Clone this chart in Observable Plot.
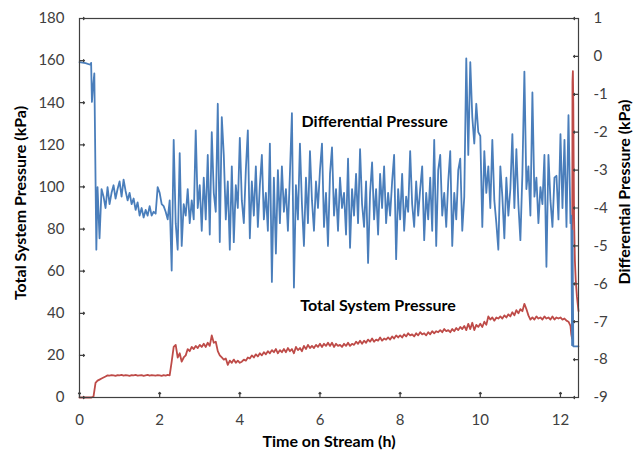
<!DOCTYPE html>
<html><head><meta charset="utf-8">
<script src="https://cdn.jsdelivr.net/npm/d3@7"></script>
<script src="https://cdn.jsdelivr.net/npm/@observablehq/plot@0.6"></script>
<style>body{margin:0;background:#fff}</style>
</head><body><div id="chart"></div>
<script>
// Differential pressure (kPa, right axis)
const blueHeadTime = [0, 0.15, 0.27, 0.29, 0.31, 0.33, 0.37, 0.42];
const blueHeadKPa  = [-0.15, -0.18, -0.22, -0.17, -1.2, -0.9, -0.45, -5.1];
const blueGridStart = 0.45, blueGridStep = 0.05;
const blueGridKPa = [
  -3.45,-4.8,-3.5,-3.7,-4.0,-3.45,-3.9,-3.6,-3.4,-3.75,-3.5,
  -3.3,-3.7,-3.25,-3.55,-3.8,-3.6,-3.9,-3.75,-4.05,-3.85,-4.2,-4.0,-4.25,-4.05,-4.2,-3.95,-4.2,-4.1,-4.15,-3.45,
  -3.6,-3.9,-3.95,-4.1,-4.3,-3.8,-5.65,-2.2,-4.4,-5.1,-2.55,-5.0,-3.9,-4.2,-3.5,-4.4,-3.8,-4.3,-1.95,-4.0,
  -3.4,-4.6,-3.2,-4.3,-2.6,-4.7,-2.0,-3.6,-4.1,-1.25,-4.9,-1.6,-2.6,-4.3,-3.3,-5.1,-2.9,-4.9,-3.4,-4.0,
  -2.15,-3.8,-4.4,-3.0,-1.95,-4.8,-3.3,-4.2,-2.9,-4.5,-3.4,-2.6,-4.3,-3.6,-4.6,-2.3,-5.95,-3.2,-5.2,-3.0,
  -4.4,-2.9,-4.1,-3.5,-4.6,-3.1,-1.5,-6.1,-3.4,-4.3,-2.3,-3.9,-5.0,-3.2,-4.4,-2.5,-3.8,-4.6,-3.3,-4.0,
  -3.0,-2.3,-4.5,-3.6,-5.0,-3.1,-2.4,-4.2,-3.5,-4.6,-3.2,-4.0,-3.6,-4.7,-2.7,-5.05,-3.5,-4.2,-3.1,-4.4,
  -2.45,-3.9,-4.5,-3.3,-5.45,-3.6,-2.8,-4.3,-3.5,-4.7,-3.1,-4.0,-2.9,-4.4,-3.6,-4.2,-3.3,-2.6,-5.35,-3.5,
  -4.3,-3.1,-4.6,-3.7,-4.1,-2.5,-3.9,-4.5,-3.3,-4.2,-3.5,-2.9,-4.85,-3.6,-4.3,-3.2,-4.6,-2.2,-5.0,-3.0,
  -2.6,-4.2,-3.6,-4.5,-3.3,-2.5,-5.0,-3.6,-4.3,-3.0,-2.7,-4.6,-3.7,-0.05,-2.6,-0.15,-1.6,-2.3,-1.25,-2.0,
  -2.1,-4.5,-2.5,-3.6,-2.9,-4.0,-2.2,-3.8,-4.4,-5.1,-2.9,-3.7,-4.8,-3.2,-4.2,-3.5,-2.05,-4.0,-2.45,-3.9,
  -4.85,-3.1,-0.4,-3.5,-2.9,-4.2,-0.95,-3.7,-3.2,-4.4,-3.45,-3.9,-2.6,-5.55,-2.6,-3.8,-4.5,-3.2,-3.15,-4.3,
  -2.05,-4.0,-2.2,-4.5,-1.55,-4.4
];
const blueTailTime = [12.27, 12.29, 12.30, 12.32, 12.45];
const blueTailKPa  = [-4.2, -7.62, -4.6, -7.65, -7.65];

// Total system pressure (kPa, left axis)
const redGridStart = 0, redGridStep = 0.05;
const redGridKPa = [
  0,0,0,0,0,0,0,0.5,7,8,8.5,9,9.5,10,10.5,10.4,10.6,10.5,10.3,10.6,
  10.5,10.7,10.4,10.6,10.5,10.3,10.6,10.5,10.7,10.4,10.5,10.6,10.3,10.5,10.7,10.4,10.6,10.5,10.4,10.6,
  10.5,10.3,10.6,10.4,10.7,10.5,17,24,25,19,21,17,19,20,23,22,24,23,24.5,23.5,
  25,24,25.5,24,26,24.5,29.5,26,26.5,22,20,19,18,18.5,15.5,17.5,16.5,18,16.5,17.5,
  16.5,17,18,17.5,19,18.5,20,19,20.5,19.5,21,20,21.5,20.5,22,21,22.5,21.5,23,21,
  22.5,21.5,23,21.5,23.5,22,23,21,24,22.5,23.5,22,24.5,23,25,23.5,24.5,23.5,25,24,
  25.5,24,25.5,24.5,26,24.5,26,24,25.5,24.5,25,24,25.5,24.5,26,24.5,25.5,25,26.5,25.5,
  27,25.5,27,26,27.5,26.5,28,26.5,27.5,27,28.5,27,28,27.5,28.5,27.5,29,28,29.5,28.5,
  29.5,28.5,30,29,30.5,29.5,30,29,30.5,29.5,31,30,30.5,29.5,31,30,31.5,30.5,31.5,31,
  32,31,32.5,31.5,32,31,32.5,31.5,33,32,33.5,32.5,34,32,35,32.5,35.5,32,34.5,33.5,
  35,33.5,36,34.5,38.5,37,38,36.5,38,37.5,38.5,37.5,39,38,39.5,38.5,40.5,39,41.5,40,
  42,41,44.5,42,39,37,38,37,38.5,37.5,38,37,38.5,37.5,38,37,38.5,37,38,37.5,
  38,37,37.5,36.5,36,34
];
const redTailTime = [12.27, 12.29, 12.30, 12.31, 12.32, 12.33, 12.34, 12.36, 12.38, 12.41, 12.45];
const redTailKPa  = [30, 28, 150, 155, 140, 110, 85, 65, 56, 48, 41];

const xTicks = [0, 2, 4, 6, 8, 10, 12];
const yLeftTicks = [0, 20, 40, 60, 80, 100, 120, 140, 160, 180];
const yRightTicks = [-9, -8, -7, -6, -5, -4, -3, -2, -1, 0, 1];

// build tables
const blue = [];
blueHeadTime.forEach((t, i) => blue.push({t, v: blueHeadKPa[i]}));
blueGridKPa.forEach((v, i) => blue.push({t: +(blueGridStart + i * blueGridStep).toFixed(2), v}));
blueTailTime.forEach((t, i) => blue.push({t, v: blueTailKPa[i]}));
const red = [];
redGridKPa.forEach((v, i) => red.push({t: +(redGridStart + i * redGridStep).toFixed(2), v}));
redTailTime.forEach((t, i) => red.push({t, v: redTailKPa[i]}));

// right axis (-9..1) mapped onto left scale (0..180)
const toLeft = d => (d + 9) * 18;
const axisColor = "#404040";

const chart = Plot.plot({
  width: 639, height: 450,
  marginLeft: 79, marginRight: 61, marginTop: 18, marginBottom: 53,
  style: {fontFamily: "Lato, sans-serif", fontSize: "15px", color: axisColor, background: "#fff"},
  x: {domain: [0, 12.45]},
  y: {domain: [0, 180]},
  marks: [
    Plot.line(red, {x: "t", y: "v", stroke: "#be4b48", strokeWidth: 1.8}),
    Plot.line(blue, {x: "t", y: d => toLeft(d.v), stroke: "#4a7ebb", strokeWidth: 1.8}),
    Plot.frame({stroke: axisColor, strokeWidth: 1.2}),
    // inward tick marks
    Plot.vector(xTicks, {x: d => d, frameAnchor: "bottom", rotate: 0, length: 5, anchor: "start", stroke: axisColor, strokeWidth: 1.2}),
    Plot.vector(yLeftTicks, {y: d => d, frameAnchor: "left", rotate: 90, length: 5, anchor: "start", stroke: axisColor, strokeWidth: 1.2}),
    Plot.vector(yRightTicks.map(toLeft), {y: d => d, frameAnchor: "right", rotate: -90, length: 5, anchor: "start", stroke: axisColor, strokeWidth: 1.2}),
    // tick labels
    Plot.axisX(xTicks, {tickSize: 0, tickPadding: 17, label: null}),
    Plot.axisY(yLeftTicks, {anchor: "left", tickSize: 0, tickPadding: 15, label: null}),
    Plot.axisY(yRightTicks.map(toLeft), {anchor: "right", tickSize: 0, tickPadding: 15, label: null,
      tickFormat: d => String(Math.round(d / 18 - 9))}),
    // axis titles
    Plot.text(["Total System Pressure (kPa)"], {frameAnchor: "left", dx: -59, dy: -5, rotate: -90, textAnchor: "middle", lineAnchor: "middle", fontWeight: "bold", fontSize: 16, fill: "#000"}),
    Plot.text(["Differential Pressure (kPa)"], {frameAnchor: "right", dx: 46, dy: -16, rotate: -90, textAnchor: "middle", lineAnchor: "middle", fontWeight: "bold", fontSize: 16, fill: "#000"}),
    Plot.text(["Time on Stream (h)"], {frameAnchor: "bottom", dy: 44, textAnchor: "middle", lineAnchor: "middle", fontWeight: "bold", fontSize: 16, fill: "#000"}),
    // series labels
    Plot.text(["Differential Pressure"], {x: 5.54, y: 131, textAnchor: "start", fontWeight: "bold", fontSize: 16, fill: "#000"}),
    Plot.text(["Total System Pressure"], {x: 5.51, y: 43.7, textAnchor: "start", fontWeight: "bold", fontSize: 16, fill: "#000"})
  ]
});
document.getElementById("chart").appendChild(chart);
</script>
</body></html>
